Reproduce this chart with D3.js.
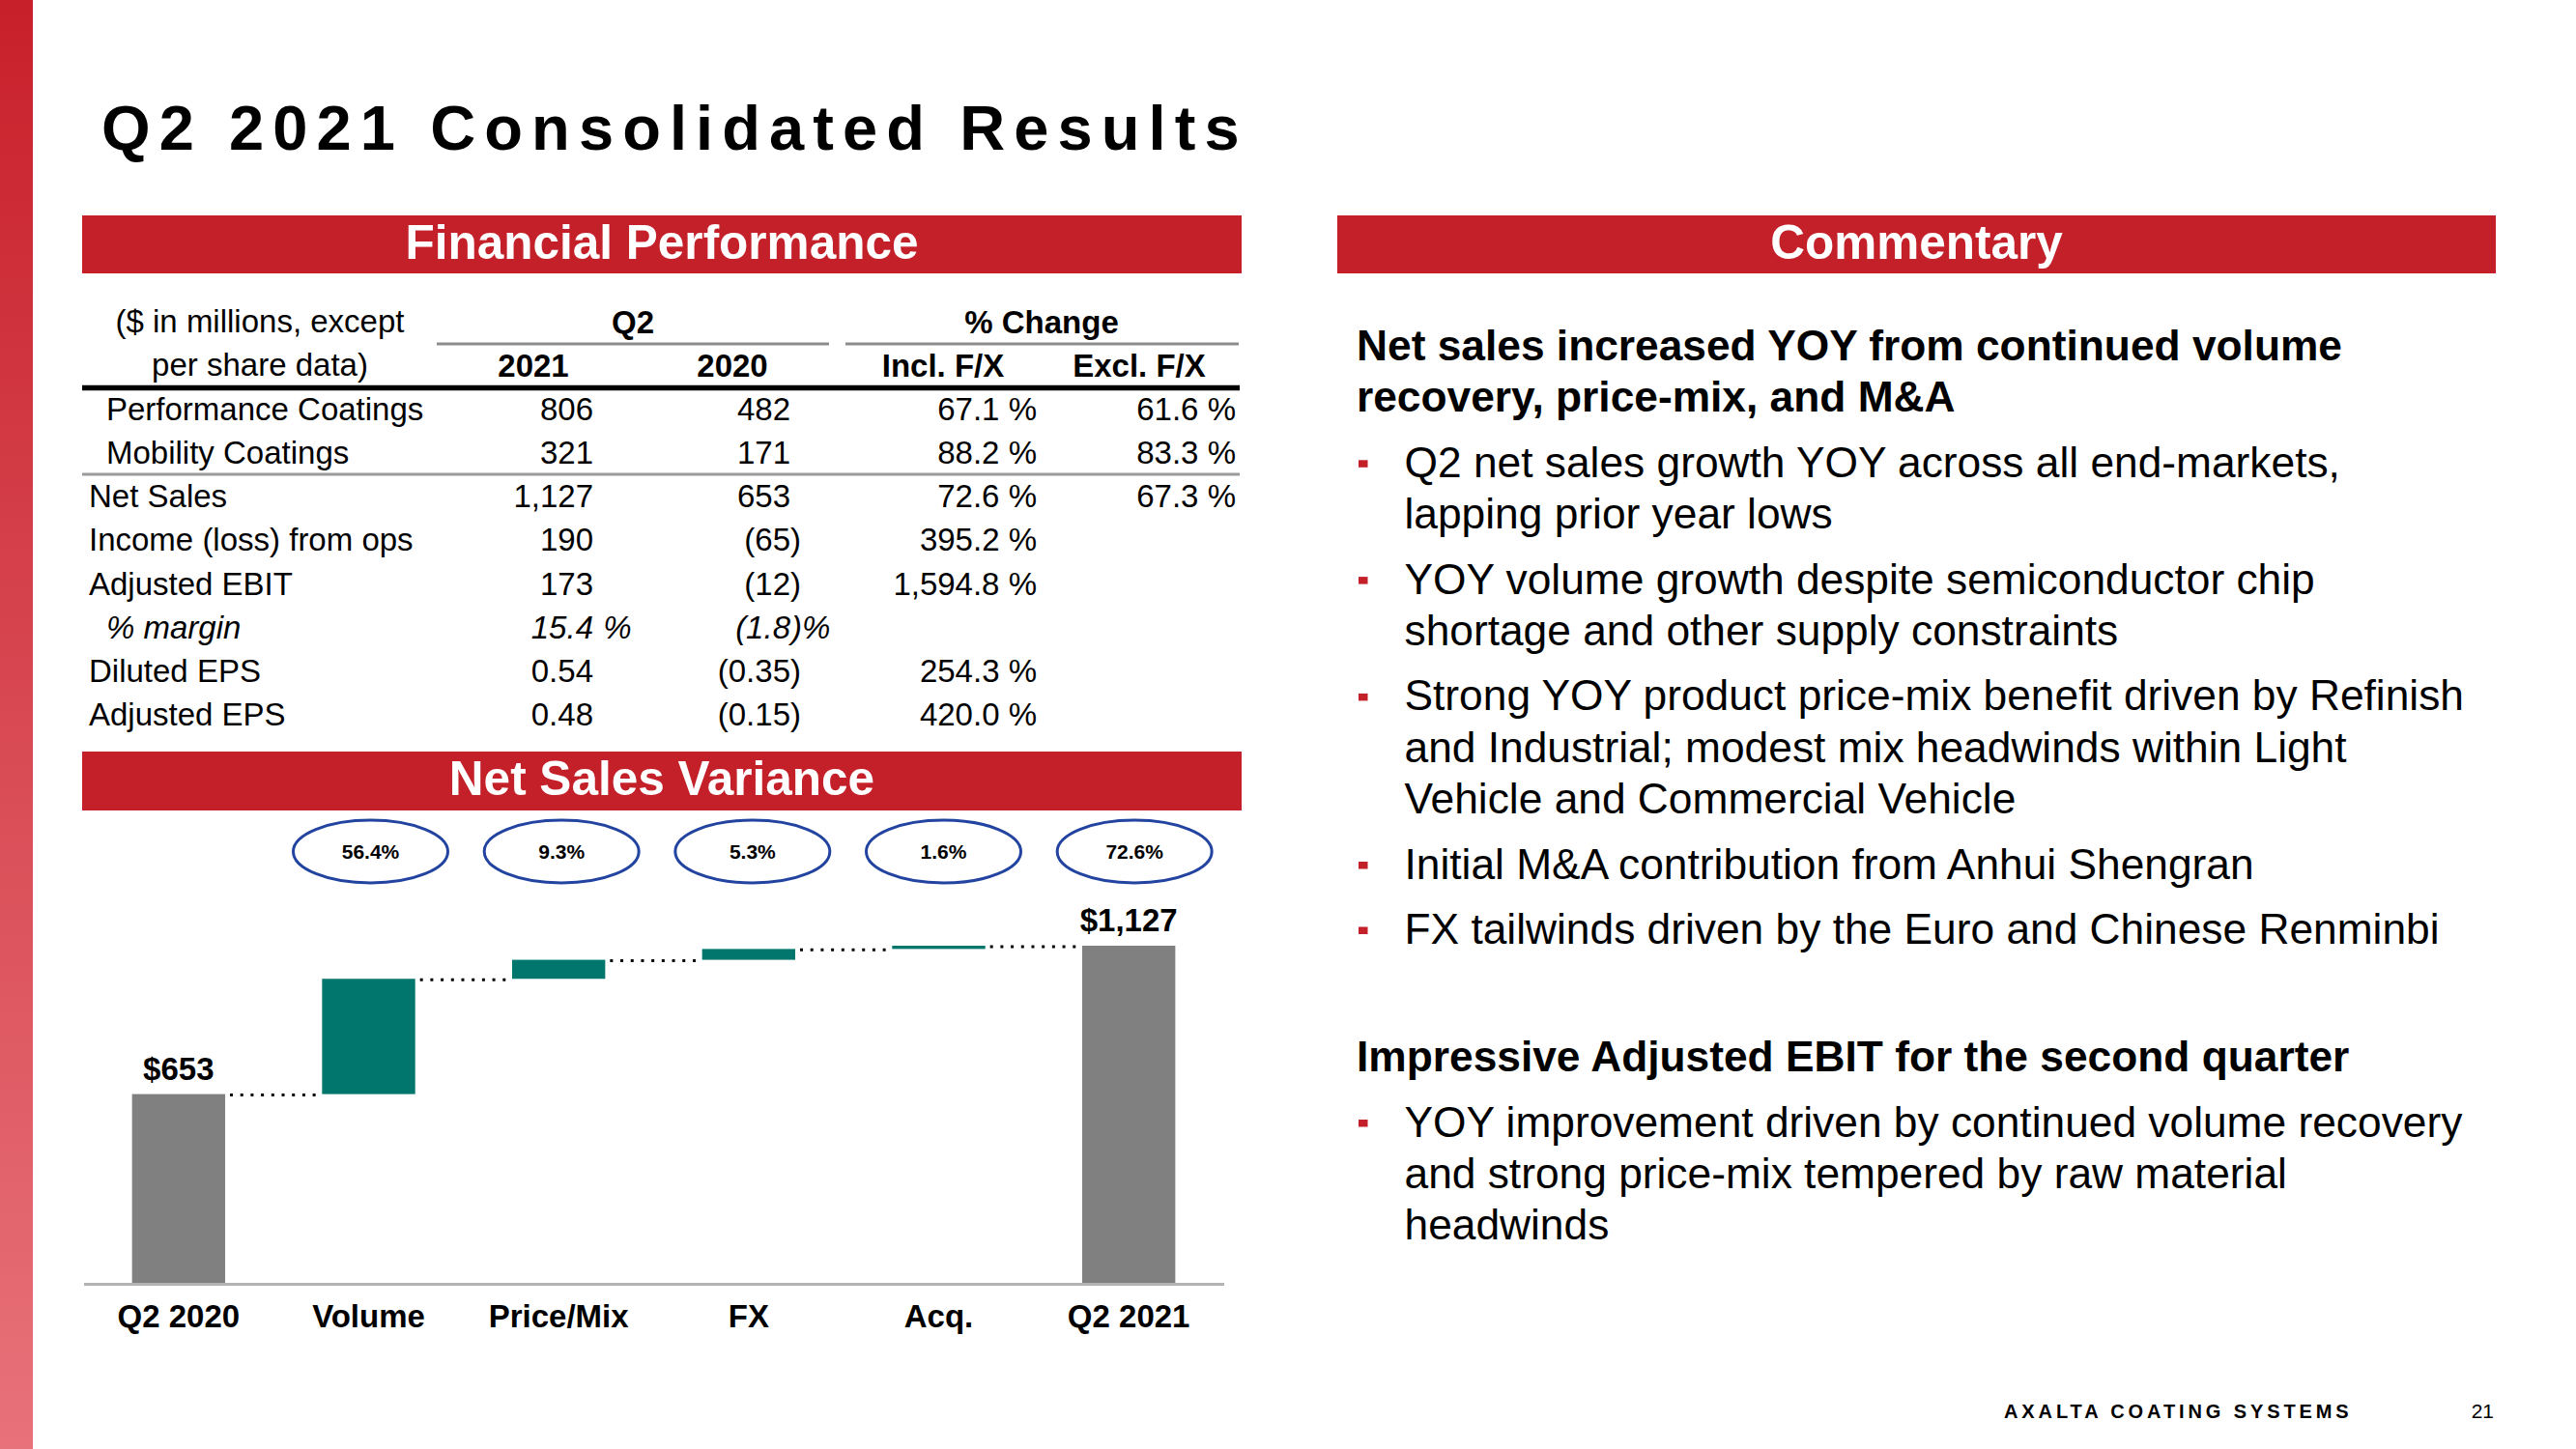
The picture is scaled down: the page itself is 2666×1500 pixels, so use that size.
<!DOCTYPE html>
<html><head><meta charset="utf-8">
<script src="https://cdn.jsdelivr.net/npm/d3@7"></script>
<style>
html,body{margin:0;padding:0;background:#fff;}
svg{display:block;font-family:"Liberation Sans",Arial,Helvetica,sans-serif;}
</style></head><body>
<svg id="slide" width="2666" height="1500"></svg>
<script>
// ---------- DATA ----------
const slideTitle = "Q2 2021 Consolidated Results";
const panelTitles = ["Financial Performance", "Net Sales Variance", "Commentary"];

// Table
const headerLeft = ["($ in millions, except", "per share data)"];
const groupHeaders = ["Q2", "% Change"];
const columnHeaders = ["2021", "2020", "Incl. F/X", "Excl. F/X"];
const rowLabels = ["Performance Coatings", "Mobility Coatings", "Net Sales", "Income (loss) from ops",
                   "Adjusted EBIT", "% margin", "Diluted EPS", "Adjusted EPS"];
const values2021 = ["806", "321", "1,127", "190", "173", "15.4 %", "0.54", "0.48"];
const values2020 = ["482", "171", "653", "(65)", "(12)", "(1.8)%", "(0.35)", "(0.15)"];
const changeInclFX = ["67.1 %", "88.2 %", "72.6 %", "395.2 %", "1,594.8 %", "", "254.3 %", "420.0 %"];
const changeExclFX = ["61.6 %", "83.3 %", "67.3 %", "", "", "", "", ""];
const indentedRows = [0, 1, 5];
const italicRows = [5];

// Waterfall
const categories = ["Q2 2020", "Volume", "Price/Mix", "FX", "Acq.", "Q2 2021"];
const startValue = 653;
const endValue = 1127;
const changes = [368.3, 60.7, 34.6, 10.4];           // Volume, Price/Mix, FX, Acq.
const changePct = ["56.4%", "9.3%", "5.3%", "1.6%", "72.6%"];
const totalLabels = ["$653", "$1,127"];

// Commentary
const heading1 = ["Net sales increased YOY from continued volume", "recovery, price-mix, and M&A"];
const bullets1 = [
  ["Q2 net sales growth YOY across all end-markets,", "lapping prior year lows"],
  ["YOY volume growth despite semiconductor chip", "shortage and other supply constraints"],
  ["Strong YOY product price-mix benefit driven by Refinish", "and Industrial; modest mix headwinds within Light", "Vehicle and Commercial Vehicle"],
  ["Initial M&A contribution from Anhui Shengran"],
  ["FX tailwinds driven by the Euro and Chinese Renminbi"]
];
const heading2 = ["Impressive Adjusted EBIT for the second quarter"];
const bullets2 = [
  ["YOY improvement driven by continued volume recovery", "and strong price-mix tempered by raw material", "headwinds"]
];
const footerBrand = "AXALTA COATING SYSTEMS";
const pageNumber = "21";

// ---------- STYLE ----------
const RED = "#c4202a", TEAL = "#00766c", GREY = "#808080", NAVY = "#2244a0";
const svg = d3.select("#slide");

// left gradient strip
const defs = svg.append("defs");
const lg = defs.append("linearGradient").attr("id", "strip").attr("x1", 0).attr("y1", 0).attr("x2", 0).attr("y2", 1);
lg.append("stop").attr("offset", "0%").attr("stop-color", "#c8202b");
lg.append("stop").attr("offset", "100%").attr("stop-color", "#e8727a");
svg.append("rect").attr("x", 0).attr("y", 0).attr("width", 34).attr("height", 1500).attr("fill", "url(#strip)");

// title
svg.append("text").attr("x", 105).attr("y", 155)
  .attr("font-size", 65).attr("font-weight", "bold").attr("letter-spacing", "9.1px")
  .attr("fill", "#000").text(slideTitle);

// panel header bars
const bars = [
  {x: 85, y: 223, w: 1200, h: 60, t: panelTitles[0]},
  {x: 85, y: 778, w: 1200, h: 61, t: panelTitles[1]},
  {x: 1384, y: 223, w: 1199, h: 60, t: panelTitles[2]}
];
bars.forEach(b => {
  svg.append("rect").attr("x", b.x).attr("y", b.y).attr("width", b.w).attr("height", b.h).attr("fill", RED);
  svg.append("text").attr("x", b.x + b.w / 2).attr("y", b.y + b.h / 2 + 14.5)
    .attr("text-anchor", "middle").attr("font-size", 49.5).attr("font-weight", "bold")
    .attr("fill", "#fff").text(b.t);
});

// ---------- TABLE ----------
const T = svg.append("g").attr("font-size", 33).attr("fill", "#000");
T.append("text").attr("x", 269).attr("y", 344).attr("text-anchor", "middle").text(headerLeft[0]);
T.append("text").attr("x", 269).attr("y", 389).attr("text-anchor", "middle").text(headerLeft[1]);
T.append("text").attr("x", 655).attr("y", 345).attr("text-anchor", "middle").attr("font-weight", "bold").text(groupHeaders[0]);
T.append("text").attr("x", 1078).attr("y", 345).attr("text-anchor", "middle").attr("font-weight", "bold").text(groupHeaders[1]);
const colHeadX = [552, 758, 976, 1179];
columnHeaders.forEach((h, i) => T.append("text").attr("x", colHeadX[i]).attr("y", 390)
  .attr("text-anchor", "middle").attr("font-weight", "bold").text(h));
T.append("line").attr("x1", 452).attr("x2", 858).attr("y1", 356).attr("y2", 356).attr("stroke", "#8c8c8c").attr("stroke-width", 3);
T.append("line").attr("x1", 875).attr("x2", 1282).attr("y1", 356).attr("y2", 356).attr("stroke", "#8c8c8c").attr("stroke-width", 3);
T.append("line").attr("x1", 85).attr("x2", 1283).attr("y1", 401.5).attr("y2", 401.5).attr("stroke", "#000").attr("stroke-width", 5.5);
T.append("line").attr("x1", 85).attr("x2", 1283).attr("y1", 491).attr("y2", 491).attr("stroke", "#9a9a9a").attr("stroke-width", 3);

const rowY = d3.scaleLinear().domain([0, 7]).range([435, 751]);
rowLabels.forEach((lab, i) => {
  const ital = italicRows.includes(i);
  const g = T.append("g").attr("font-style", ital ? "italic" : "normal");
  g.append("text").attr("x", indentedRows.includes(i) ? 110 : 92).attr("y", rowY(i)).text(lab);
  // Q2 columns: numeric core right-aligned, ")" and "%" hang to the right
  [[values2021[i], 614], [values2020[i], 818]].forEach(([v, xr]) => {
    if (!v) return;
    const m = v.match(/^(.*?)([\s)%]*)$/);
    g.append("text").attr("x", xr).attr("y", rowY(i)).attr("text-anchor", "end").text(m[1]);
    if (m[2]) g.append("text").attr("x", xr + (ital ? 1 : 0)).attr("y", rowY(i)).attr("text-anchor", "start")
      .text(m[2].replace(/ /g, "\u00A0"));
  });
  [[changeInclFX[i], 1073], [changeExclFX[i], 1279]].forEach(([v, xr]) => {
    if (!v) return;
    g.append("text").attr("x", xr).attr("y", rowY(i)).attr("text-anchor", "end").text(v);
  });
});

// ---------- WATERFALL ----------
const x = d3.scaleBand().domain(categories).range([86.5, 1266.5]).paddingInner(0).paddingOuter(0);
const barW = x.bandwidth() * 0.49;
const yFloor = 50;
const y = d3.scaleLinear().domain([yFloor, endValue]).range([1328, 979]);

const segs = [];
segs.push({cat: categories[0], lo: yFloor, hi: startValue, total: true});
let run = startValue;
changes.forEach((c, i) => { segs.push({cat: categories[i + 1], lo: run, hi: run + c, total: false}); run += c; });
segs.push({cat: categories[5], lo: yFloor, hi: endValue, total: true});

const W = svg.append("g");
W.selectAll("rect.bar").data(segs).enter().append("rect")
  .attr("x", d => x(d.cat) + (x.bandwidth() - barW) / 2)
  .attr("width", barW)
  .attr("y", d => y(d.hi))
  .attr("height", d => y(d.lo) - y(d.hi))
  .attr("fill", d => d.total ? GREY : TEAL);

// connectors
const conn = segs.slice(0, -1).map((d, i) => ({from: d.cat, to: segs[i + 1].cat, v: d.hi}));
W.selectAll("line.conn").data(conn).enter().append("line")
  .attr("x1", d => x(d.from) + (x.bandwidth() + barW) / 2 + 5)
  .attr("x2", d => x(d.to) + (x.bandwidth() - barW) / 2)
  .attr("y1", d => y(d.v) + 1).attr("y2", d => y(d.v) + 1)
  .attr("stroke", "#000").attr("stroke-width", 3).attr("stroke-dasharray", "3 7.7");

// total labels
[[categories[0], startValue, totalLabels[0]], [categories[5], endValue, totalLabels[1]]].forEach(([c, v, t]) => {
  W.append("text").attr("x", x(c) + x.bandwidth() / 2).attr("y", y(v) - 15)
    .attr("text-anchor", "middle").attr("font-size", 33).attr("font-weight", "bold").text(t);
});

// pct ellipses
categories.slice(1).forEach((c, i) => {
  const cx = x(c) + x.bandwidth() / 2 + 2 + i * 1;
  W.append("ellipse").attr("cx", cx).attr("cy", 881.5).attr("rx", 80).attr("ry", 32.5)
    .attr("fill", "#fff").attr("stroke", NAVY).attr("stroke-width", 3);
  W.append("text").attr("x", cx).attr("y", 888.5).attr("text-anchor", "middle")
    .attr("font-size", 21).attr("font-weight", "bold").text(changePct[i]);
});

// axis
const ax = W.append("g").attr("transform", "translate(0,1329)")
  .call(d3.axisBottom(x).tickSize(0).tickSizeOuter(0));
ax.select(".domain").attr("stroke", "#b3b3b3").attr("stroke-width", 3);
ax.selectAll(".tick text").attr("y", 45).attr("dy", null)
  .attr("font-size", 33).attr("font-weight", "bold").attr("fill", "#000")
  .attr("font-family", "'Liberation Sans', Arial, sans-serif");

// ---------- COMMENTARY ----------
const C = svg.append("g").attr("fill", "#000").attr("font-size", 44.3);
const lineH = 53.3, paraGap = 67.5;
let cy = 373;
function heading(lines) {
  lines.forEach((l, i) => {
    C.append("text").attr("x", 1404).attr("y", cy).attr("font-weight", "bold").text(l);
    if (i < lines.length - 1) cy += lineH;
  });
  cy += paraGap;
}
function bullets(list) {
  list.forEach(lines => {
    C.append("rect").attr("x", 1406).attr("y", cy - 17.5).attr("width", 9.5).attr("height", 7.5).attr("fill", RED);
    lines.forEach((l, i) => {
      C.append("text").attr("x", 1453.5).attr("y", cy).text(l);
      if (i < lines.length - 1) cy += lineH;
    });
    cy += paraGap;
  });
}
heading(heading1);
bullets(bullets1);
cy = 1109;
heading(heading2);
bullets(bullets2);

// footer
svg.append("text").attr("x", 2074).attr("y", 1468).attr("font-size", 20).attr("font-weight", "bold")
  .attr("letter-spacing", "3.9px").text(footerBrand);
svg.append("text").attr("x", 2581).attr("y", 1468).attr("text-anchor", "end").attr("font-size", 21).text(pageNumber);
</script>
</body></html>
